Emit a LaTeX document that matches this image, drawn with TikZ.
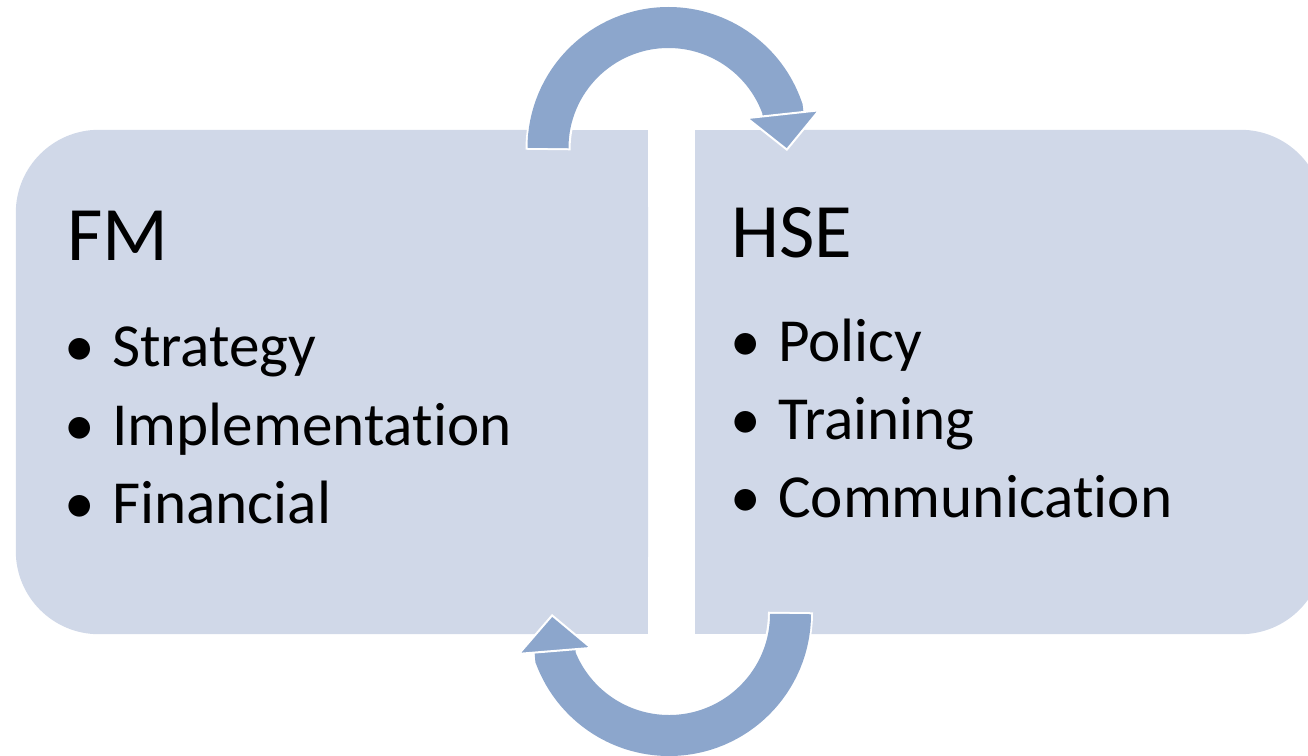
\documentclass[tikz,border=0pt]{standalone}
\usepackage{fontspec}
\setmainfont{Carlito}[Ligatures=NoCommon]
\usetikzlibrary{positioning, arrows.meta}
\definecolor{boxfill}{RGB}{208,216,232}
\definecolor{arrowblue}{RGB}{140,166,204}
\newcommand{\bul}{\makebox[48pt][l]{\textbullet}}
\tikzset{
	box/.style={minimum height=504pt, inner sep=0pt}, % empty frame of one column
	title/.style={anchor=base west, inner sep=0pt, font=\fontsize{77}{77}\selectfont},
	item/.style={anchor=base west, inner sep=0pt, font=\fontsize{61.2}{61.2}\selectfont},
	turnback/.style={draw=white, line width=45pt, shorten >=36pt, shorten <=-2pt}, % white rim under an arrow
	turnarrow/.style={draw=arrowblue, line width=41pt, -{Triangle[length=38pt, width=77pt, line width=2pt, fill=arrowblue, color=white]}},
}

\begin{document}
\begin{tikzpicture}[x=1pt, y=-1pt]
	\useasboundingbox (0,0) rectangle (1308,755);
	\clip (0,0) rectangle (1308,755);

	\node[box, minimum width=632pt] (fm) at (332,382) {};
	\node[box, minimum width=628pt] (hse) [right=47pt of fm] {};

	% the two columns, rounded on the outer side only
	\fill[boxfill, rounded corners=83pt] (fm.north west) rectangle (fm.south east);
	\fill[boxfill] (fm.north) rectangle (fm.south east);
	\fill[boxfill, rounded corners=83pt] (hse.north west) rectangle (hse.south east);
	\fill[boxfill] (hse.north west) rectangle (hse.south);

	% circular arrows
	\coordinate (topfoot) at (548,148);
	\coordinate (toptip) at (787,151);
	\coordinate (botfoot) at (790.5,614);
	\coordinate (bottip) at (552,614);
	\draw[turnback] (topfoot) arc[start angle=180, end angle=341, radius=120.5] -- (toptip);
	\draw[turnarrow] (topfoot) arc[start angle=180, end angle=341, radius=120.5] -- (toptip);
	\draw[turnback] (botfoot) arc[start angle=0, end angle=159, radius=121.5] -- (bottip);
	\draw[turnarrow] (botfoot) arc[start angle=0, end angle=159, radius=121.5] -- (bottip);

	\node[title] (fmtitle) at (67,260) {FM};
	\node[item] (strategy) at (64,366) {\bul Strategy};
	\node[item] (implementation) at (64,445) {\bul Implementation};
	\node[item] (financial) at (64,523) {\bul Financial};

	\node[title] (hsetitle) at (731,257) {HSE};
	\node[item] (policy) at (730,361) {\bul Policy};
	\node[item] (training) at (730,439) {\bul Training};
	\node[item] (communication) at (730,517) {\bul Communication};
\end{tikzpicture}
\end{document}
